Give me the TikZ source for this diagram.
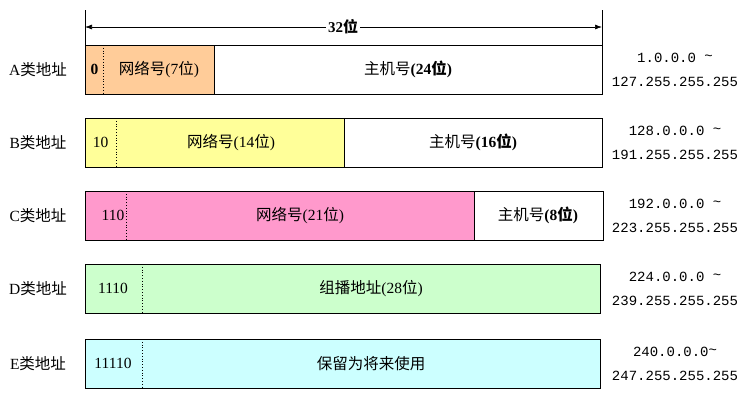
\documentclass[tikz,border=0pt]{standalone}
\usepackage{fontspec}
\setmainfont{Liberation Serif}
\newfontfamily\cjk{Noto Sans CJK SC}
\newfontfamily\rangefont{Liberation Mono}
\usetikzlibrary{arrows.meta}
\newcommand{\C}[1]{{\cjk #1}}
\begin{document}
\begin{tikzpicture}[x=1pt,y=-1pt,
  seg/.style={draw=black,line width=0.9pt,minimum height=49pt,inner sep=0pt,anchor=north west},
  lab/.style={font=\fontsize{15.5}{18}\selectfont,inner sep=0pt},
  rng/.style={font=\rangefont\fontsize{14}{24}\selectfont,align=center,inner sep=0pt},
  sep/.style={draw=black,line width=0.8pt,dotted},
  tick/.style={draw=black,line width=0.8pt}]
\useasboundingbox (0,0) rectangle (754,400);
% top dimension
\coordinate (tl0) at (85,10);
\coordinate (tr0) at (602,10);
\coordinate (tl1) at (85,45);
\coordinate (tr1) at (602,45);
\draw[tick] (tl0) -- (tl1);
\draw[tick] (tr0) -- (tr1);
\coordinate (al) at (85,27);
\coordinate (ar) at (602,27);
\draw[line width=0.7pt,{Latex[length=7pt,width=5pt]}-{Latex[length=7pt,width=5pt]}] (al) -- (ar);
\node[lab,fill=white,inner xsep=2pt,font=\fontsize{15}{18}\selectfont\bfseries] (bits) at (343,27) {32\C{位}};
% Row A
\node[seg,fill={rgb,255:red,255;green,204;blue,153},minimum width=129pt] (anet) at (85,45) {};
\node[seg,fill=white,minimum width=388pt] (ahost) at (214,45) {};
\draw[sep] (103,45) -- (103,94);
\node[lab] (abits) at (94.5,69.5) {\textbf{0}};
\node[lab] (anl) at (159,69.5) {\C{网络号}(7\C{位})};
\node[lab] (ahl) at (408,69.5) {\C{主机号}\textbf{(24\C{位})}};
\node[lab] (aname) at (38,69.5) {A\C{类地址}};
\node[rng] (arng) at (675,69.5) {1.0.0.0 \raisebox{0.2ex}{\textasciitilde}\\127.255.255.255};
% Row B
\node[seg,fill={rgb,255:red,255;green,255;blue,153},minimum width=259pt] (bnet) at (85,118) {};
\node[seg,fill=white,minimum width=258pt] (bhost) at (344,118) {};
\draw[sep] (116,118) -- (116,167);
\node[lab] (bbits) at (100.5,142.5) {10};
\node[lab] (bnl) at (231,142.5) {\C{网络号}(14\C{位})};
\node[lab] (bhl) at (473,142.5) {\C{主机号}\textbf{(16\C{位})}};
\node[lab] (bname) at (38,142.5) {B\C{类地址}};
\node[rng] (brng) at (675,142.5) {128.0.0.0 \raisebox{0.2ex}{\textasciitilde}\\191.255.255.255};
% Row C
\node[seg,fill={rgb,255:red,255;green,153;blue,204},minimum width=389pt] (cnet) at (85,191) {};
\node[seg,fill=white,minimum width=129pt] (chost) at (474,191) {};
\draw[sep] (126,191) -- (126,240);
\node[lab] (cbits) at (113,215.5) {110};
\node[lab] (cnl) at (300,215.5) {\C{网络号}(21\C{位})};
\node[lab] (chl) at (538,215.5) {\C{主机号}\textbf{(8\C{位})}};
\node[lab] (cname) at (38,215.5) {C\C{类地址}};
\node[rng] (crng) at (675,215.5) {192.0.0.0 \raisebox{0.2ex}{\textasciitilde}\\223.255.255.255};
% Row D
\node[seg,fill={rgb,255:red,204;green,255;blue,204},minimum width=515pt] (dnet) at (85,264) {};
\draw[sep] (142,264) -- (142,313);
\node[lab] (dbits) at (113,288.5) {1110};
\node[lab] (dnl) at (371,288.5) {\C{组播地址}(28\C{位})};
\node[lab] (dname) at (38,288.5) {D\C{类地址}};
\node[rng] (drng) at (675,288.5) {224.0.0.0 \raisebox{0.2ex}{\textasciitilde}\\239.255.255.255};
% Row E
\node[seg,fill={rgb,255:red,204;green,255;blue,255},minimum width=515pt] (enet) at (85,339) {};
\draw[sep] (142,339) -- (142,388);
\node[lab] (ebits) at (113,363.5) {11110};
\node[lab] (enl) at (371,363.5) {\C{保留为将来使用}};
\node[lab] (ename) at (38,363.5) {E\C{类地址}};
\node[rng] (erng) at (675,363.5) {240.0.0.0\raisebox{0.2ex}{\textasciitilde}\\247.255.255.255};
\end{tikzpicture}
\end{document}
